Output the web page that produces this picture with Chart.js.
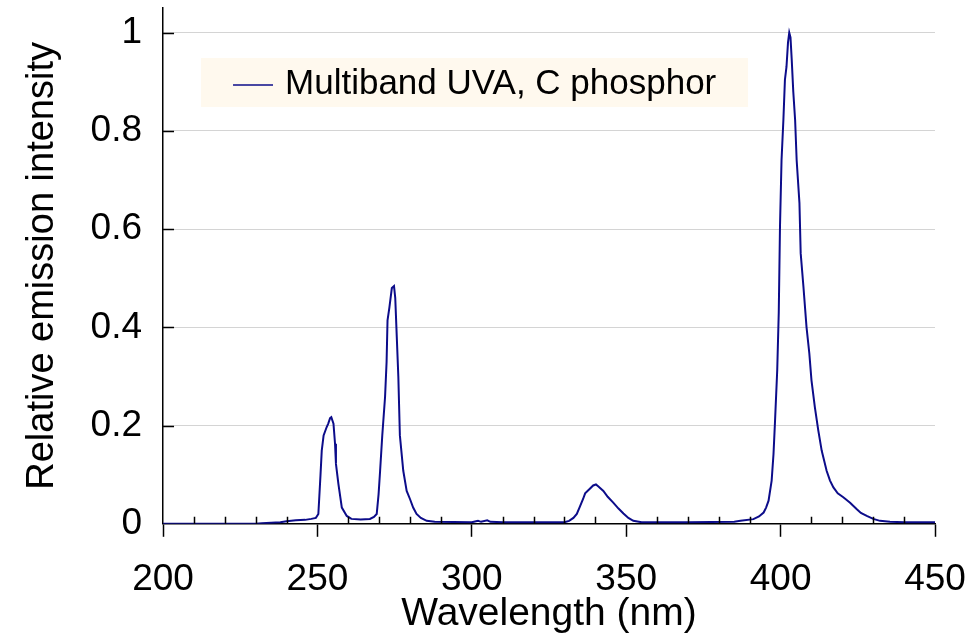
<!DOCTYPE html>
<html>
<head>
<meta charset="utf-8">
<title>Multiband UVA emission</title>
<script src="https://cdn.jsdelivr.net/npm/chart.js@4/dist/chart.umd.min.js"></script>
<style>
  html, body { margin: 0; padding: 0; background: #fff; }
  #wrap { width: 967px; height: 640px; }
</style>
</head>
<body>
<div id="wrap"><canvas id="spectrum"></canvas></div>
<script>
// wavelength (nm) and relative emission
const wavelength = [
  200, 230, 232, 238, 240, 243, 246, 248, 249.5,
  250.3, 250.6, 251.0, 251.4, 252.0, 253.0, 253.5, 254.1, 254.5, 255.2, 255.7, 256.0, 256.8, 257.9, 259.5,
  261, 264, 267, 268.3,
  269.2, 269.8, 270.3, 271.0, 271.9, 272.4, 272.7, 273.3, 274.1, 274.8, 275.2, 275.7, 276.2, 276.7, 277.8, 278.9,
  280, 281, 282.1, 283.5, 285.4, 288,
  300, 302, 303, 305, 306, 310, 320, 330,
  331.5, 332.9, 334, 335, 336, 336.7, 338.3, 339.3, 340.2, 341, 342.6, 344, 345.8, 347.5, 349.1, 350.7, 352.3, 355,
  370, 385, 387, 391.2, 393, 394.5, 395.3, 396.1,
  397.1, 397.7, 398.2, 398.9, 399.4, 399.8, 400.3, 400.9, 401.4, 401.9, 402.4, 402.8, 403.2, 403.6, 404.1,
  404.7, 405.2, 406.1, 406.5, 407.4, 408.4, 409.3, 410, 411.1, 412.2, 413.3, 414.9, 416, 417.1, 418.5,
  420.3, 422.5, 424.6, 426, 427.9, 430, 432.2, 435.4, 440, 450
];
const intensity = [
  0, 0, 0.001, 0.003, 0.005, 0.007, 0.008, 0.01, 0.012,
  0.02, 0.054, 0.1, 0.149, 0.18, 0.197, 0.204, 0.215, 0.217, 0.204, 0.163, 0.122, 0.081, 0.033, 0.016,
  0.01, 0.009, 0.01, 0.014,
  0.02, 0.06, 0.108, 0.18, 0.258, 0.33, 0.414, 0.44, 0.48, 0.484, 0.46, 0.38, 0.3, 0.18, 0.108, 0.067,
  0.05, 0.033, 0.02, 0.012, 0.006, 0.004,
  0.003, 0.006, 0.004, 0.007, 0.004, 0.003, 0.003, 0.003,
  0.006, 0.012, 0.02, 0.035, 0.05, 0.062, 0.072, 0.078, 0.08, 0.076, 0.067, 0.055, 0.043, 0.031, 0.021, 0.012, 0.006, 0.003,
  0.003, 0.004, 0.006, 0.0095, 0.015, 0.023, 0.033, 0.047,
  0.088, 0.142, 0.21, 0.312, 0.43, 0.605, 0.74, 0.822, 0.904, 0.93, 0.98, 1.0, 0.99, 0.945, 0.88,
  0.822, 0.74, 0.653, 0.551, 0.482, 0.4, 0.347, 0.292, 0.237, 0.19, 0.149, 0.108, 0.088, 0.074, 0.062,
  0.054, 0.043, 0.03, 0.022, 0.016, 0.01, 0.006, 0.004, 0.003, 0.003
];
const seriesName = "Multiband UVA, C phosphor";
const minorX = [210, 220, 230, 240, 260, 270, 280, 290, 310, 320, 330, 340, 360, 370, 380, 390, 410, 420, 430, 440];

const FONT = "'Liberation Sans', Arial, sans-serif";
const lineColor = "#0c0c8a";

// inward ticks (minor on x, major on y) + the cream legend box
const extras = {
  id: "extras",
  beforeDatasetsDraw(chart) {
    const ctx = chart.ctx;
    const a = chart.chartArea;
    const bx = a.left + 38, by = a.top + 50, bw = 547, bh = 49;
    ctx.save();
    ctx.fillStyle = "#fff9ee";
    ctx.fillRect(bx, by, bw, bh);
    ctx.strokeStyle = lineColor;
    ctx.lineWidth = 1.5;
    ctx.beginPath();
    ctx.moveTo(bx + 32, by + 27);
    ctx.lineTo(bx + 72, by + 27);
    ctx.stroke();
    ctx.fillStyle = "#000";
    ctx.font = "35px " + FONT;
    ctx.textBaseline = "middle";
    ctx.fillText(seriesName, bx + 84, by + 26);
    ctx.restore();
  },
  afterDraw(chart) {
    const ctx = chart.ctx;
    const xs = chart.scales.x, ys = chart.scales.y;
    const a = chart.chartArea;
    ctx.save();
    ctx.strokeStyle = "#000";
    ctx.lineWidth = 1.5;
    ctx.beginPath();
    minorX.forEach((v) => {
      const px = Math.round(xs.getPixelForValue(v)) + 0.5;
      ctx.moveTo(px, a.bottom);
      ctx.lineTo(px, a.bottom - 7);
    });
    ys.ticks.forEach((t) => {
      if (t.value <= 0) return;
      const py = Math.round(ys.getPixelForValue(t.value)) + 0.5;
      ctx.moveTo(a.left, py);
      ctx.lineTo(a.left + 11, py);
    });
    ctx.stroke();
    ctx.restore();
  },
};

new Chart(document.getElementById("spectrum"), {
  type: "scatter",
  data: {
    datasets: [
      {
        label: seriesName,
        data: wavelength.map((w, i) => ({ x: w, y: intensity[i] })),
        showLine: true,
        borderColor: lineColor,
        backgroundColor: lineColor,
        borderWidth: 2,
        pointRadius: 0,
        tension: 0,
      },
    ],
  },
  options: {
    responsive: true,
    maintainAspectRatio: false,
    animation: false,
    layout: { padding: { left: 20, right: 32, top: 8, bottom: 2 } },
    plugins: {
      legend: { display: false },
      tooltip: { enabled: false },
    },
    scales: {
      x: {
        type: "linear",
        min: 200,
        max: 450,
        afterFit: (s) => { s.paddingLeft = 0; s.paddingRight = 0; },
        ticks: {
          stepSize: 50,
          color: "#000",
          font: { family: FONT, size: 37 },
          padding: 21,
          maxRotation: 0,
        },
        grid: {
          drawOnChartArea: false,
          drawTicks: true,
          tickLength: 13,
          tickColor: "#000",
          tickWidth: 1.5,
        },
        border: { display: true, color: "#000", width: 1.5 },
        title: {
          display: true,
          text: "Wavelength (nm)",
          color: "#000",
          font: { family: FONT, size: 39 },
          padding: { top: -32, bottom: 0 },
        },
      },
      y: {
        min: 0,
        max: 1.05,
        afterFit: (s) => { s.paddingTop = 0; },
        ticks: {
          stepSize: 0.2,
          includeBounds: false,
          color: "#000",
          font: { family: FONT, size: 37 },
          padding: 21,
          callback: (v) => (v === 0 ? "0" : Math.abs(v - 1) < 1e-9 ? "1" : v.toFixed(1)),
        },
        grid: {
          color: "#a8a8a8",
          lineWidth: 1,
          drawTicks: false,
        },
        border: { display: true, color: "#000", width: 1.5, dash: [1, 1] },
        title: {
          display: true,
          text: "Relative emission intensity",
          color: "#000",
          font: { family: FONT, size: 38 },
          padding: { top: 0, bottom: 4 },
        },
      },
    },
  },
  plugins: [extras],
});
</script>
</body>
</html>
